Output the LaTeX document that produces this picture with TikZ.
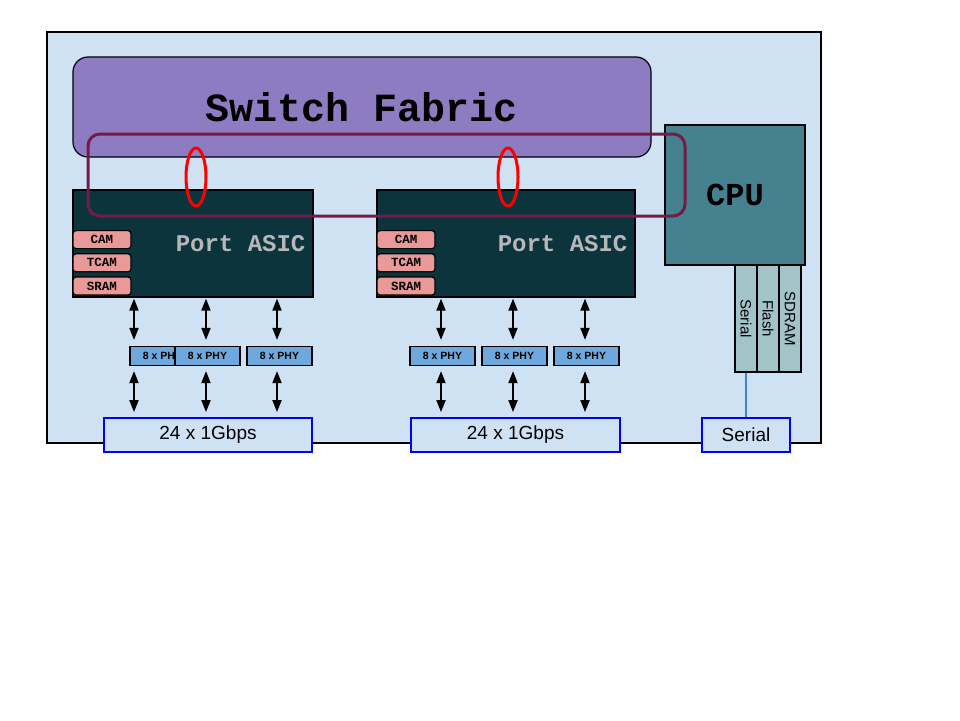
\documentclass[tikz,border=0pt]{standalone}
\usepackage{fontspec}
\setmainfont{Liberation Sans}
\setmonofont{Liberation Mono}
\usepackage{tikz}
\usetikzlibrary{positioning,arrows.meta,shapes.geometric}
\definecolor{boardblue}{HTML}{CFE2F3}
\definecolor{fabricviolet}{HTML}{8E7CC3}
\definecolor{cputeal}{HTML}{45818E}
\definecolor{asicteal}{HTML}{0C343D}
\definecolor{asicgrey}{HTML}{B7B7B7}
\definecolor{mempink}{HTML}{EA9999}
\definecolor{phyblue}{HTML}{6FA8DC}
\definecolor{stripteal}{HTML}{A2C4C9}
\definecolor{ringmaroon}{HTML}{741B47}
\definecolor{wireblue}{HTML}{3D85C6}
\tikzset{
	block/.style={
		rectangle,
		draw,
		inner sep=0pt
	},
	board/.style={
		block,
		fill=boardblue,
		line width=2,
		minimum width=774,
		minimum height=411
	},
	fabric/.style={
		block,
		fill=fabricviolet,
		line width=1.2,
		rounded corners=15,
		minimum width=578,
		minimum height=100,
		font=\fontsize{40}{44}\selectfont\ttfamily\bfseries
	},
	cpu box/.style={
		block,
		fill=cputeal,
		line width=1.2,
		minimum width=140,
		minimum height=140,
		font=\fontsize{32}{36}\selectfont\ttfamily\bfseries
	},
	asic/.style={
		block,
		fill=asicteal,
		line width=1.2,
		minimum height=107
	},
	asic text/.style={
		text=asicgrey,
		inner sep=0pt,
		font=\fontsize{24}{28}\selectfont\ttfamily\bfseries
	},
	mem/.style={
		block,
		fill=mempink,
		line width=1.2,
		rounded corners=3,
		minimum width=58,
		minimum height=18,
		node distance=4pt,
		font=\fontsize{12.5}{14}\selectfont\ttfamily\bfseries
	},
	phy/.style={
		block,
		fill=phyblue,
		line width=1.2,
		minimum width=65,
		minimum height=19,
		font=\fontsize{10.5}{12}\selectfont\bfseries
	},
	port group/.style={
		block,
		draw=blue,
		fill=boardblue,
		line width=1.8,
		minimum height=34,
		font=\fontsize{19}{22}\selectfont
	},
	strip/.style={
		block,
		fill=stripteal,
		line width=1.2,
		rotate=-90,
		minimum width=107,
		minimum height=22,
		font=\fontsize{15}{17}\selectfont
	},
	fabric ring/.style={
		draw=ringmaroon,
		line width=3,
		rounded corners=12
	},
	lane ring/.style={
		ellipse,
		draw=red,
		line width=3,
		inner sep=0pt,
		minimum width=20,
		minimum height=58
	},
	biarrow/.style={
		line width=1.8,
		{Triangle[length=12pt,width=9pt]}-{Triangle[length=12pt,width=9pt]}
	}
}

\begin{document}
\begin{tikzpicture}[x=1pt,y=-1pt]
	\useasboundingbox (0,0) rectangle (960,720);
	\node[board] (board) at (434,237.5) {};
	\node[fabric] (fabric) at (362,107) {Switch Fabric};
	\node[cpu box] (cpu) at (735,195) {CPU};
	% port asics with their memories
	\node[asic,minimum width=240] (asic1) at (193,243.5) {};
	\node[asic,minimum width=258] (asic2) at (506,243.5) {};
	\foreach \n in {1,2} {
		\node[asic text,left=8pt of asic\n.east] (asictext\n) {Port ASIC};
		\node[mem,anchor=south west] (sram\n) at ([yshift=2pt]asic\n.south west) {SRAM};
		\node[mem,above=of sram\n] (tcam\n) {TCAM};
		\node[mem,above=of tcam\n] (cam\n) {CAM};
	}
	\draw[fabric ring] (88,134) rectangle (685,216);
	\node[lane ring] (ring1) at (196,177) {};
	\node[lane ring] (ring2) at (508,177) {};
	% phys
	\node[phy] (phy11) at (162.5,356) {8 x PHY};
	\node[phy] (phy12) at (207.5,356) {8 x PHY};
	\node[phy] (phy13) at (279.5,356) {8 x PHY};
	\node[phy] (phy21) at (442.5,356) {8 x PHY};
	\node[phy] (phy22) at (514.5,356) {8 x PHY};
	\node[phy] (phy23) at (586.5,356) {8 x PHY};
	\node[port group,minimum width=208] (ports1) at (208,435) {24 x 1Gbps};
	\node[port group,minimum width=209] (ports2) at (515.5,435) {24 x 1Gbps};
	\coordinate (col11) at (134,0);
	\coordinate (col12) at (206,0);
	\coordinate (col13) at (277,0);
	\coordinate (col21) at (441,0);
	\coordinate (col22) at (513,0);
	\coordinate (col23) at (585,0);
	\foreach \n in {1,2} {
		\foreach \m in {1,2,3} {
			\draw[biarrow,shorten <=1pt,shorten >=6pt] (asic\n.south -| col\n\m) -- (phy\n\m.north -| col\n\m);
			\draw[biarrow,shorten <=5pt,shorten >=5pt] (phy\n\m.south -| col\n\m) -- (ports\n.north -| col\n\m);
		}
	}
	% cpu side
	\node[strip] (sserial) at (746,318.5) {Serial};
	\node[strip] (sflash) at (768,318.5) {Flash};
	\node[strip] (ssdram) at (790,318.5) {SDRAM};
	\node[port group,minimum width=88] (serial) at (746,435) {Serial};
	\draw[wireblue,line width=1.3] (sserial) -- (serial);
\end{tikzpicture}
\end{document}
